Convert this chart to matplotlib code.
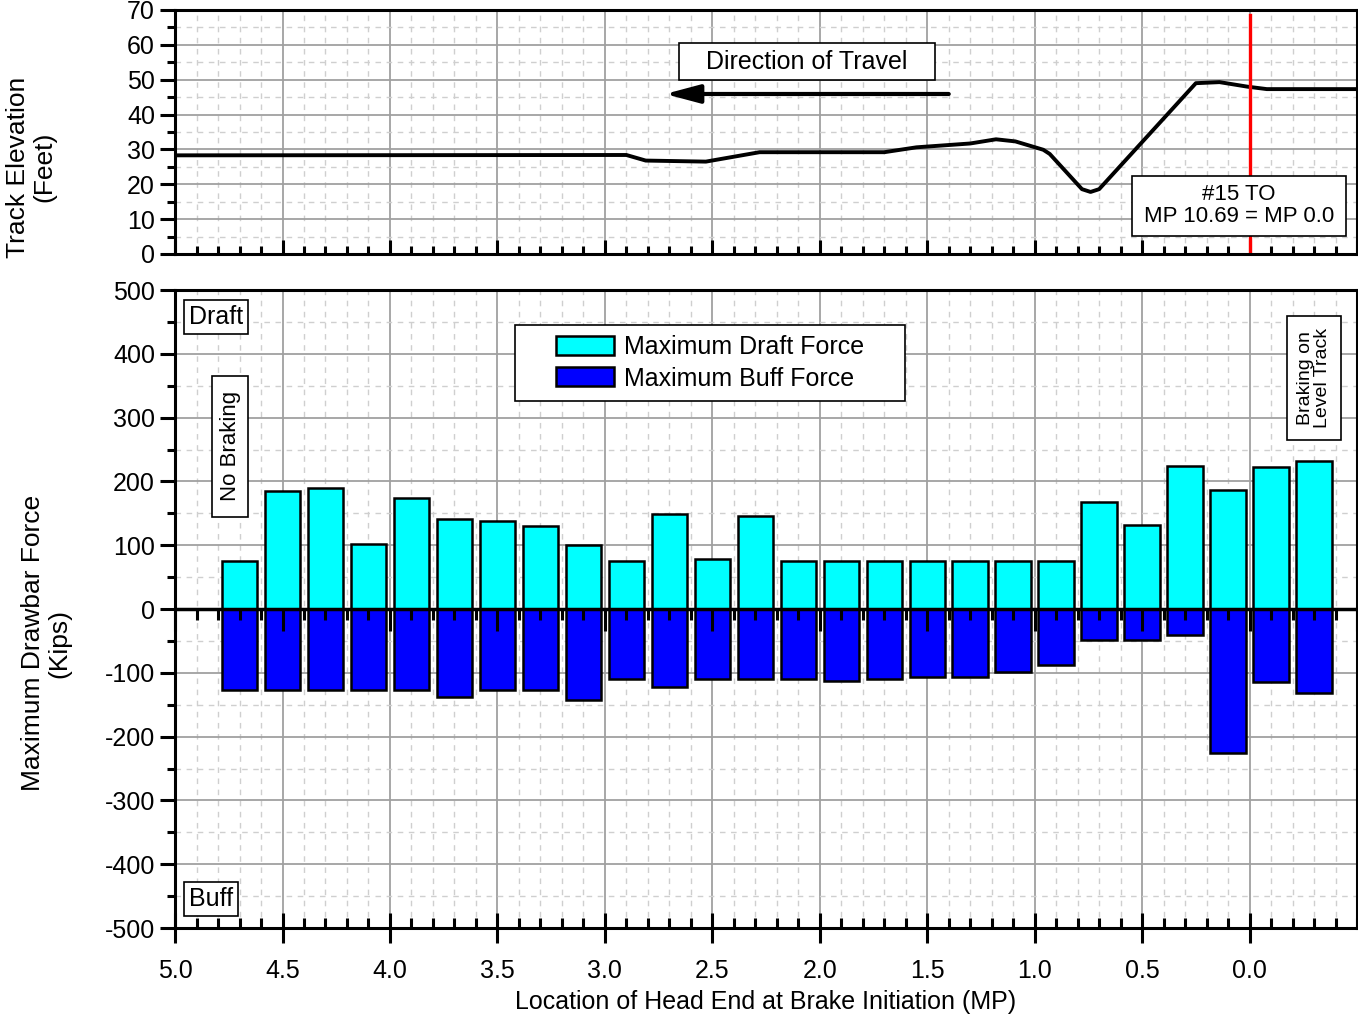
import matplotlib
matplotlib.use("Agg")
import matplotlib.pyplot as plt
from matplotlib.ticker import MultipleLocator
from matplotlib.path import Path

plt.rcParams['font.family'] = ['Liberation Sans', 'DejaVu Sans']
plt.rcParams['axes.unicode_minus'] = False

# track profile (MP, feet)
profile_mp = [5.0, 2.90, 2.81, 2.53, 2.28, 1.70, 1.55, 1.30, 1.18, 1.09, 0.96, 0.93,
              0.78, 0.74, 0.70, 0.25, 0.14, 0.01, -0.08, -0.5]
profile_elev = [28.3, 28.4, 26.8, 26.5, 29.2, 29.2, 30.6, 31.7, 32.9, 32.3, 29.9, 28.7,
                18.6, 17.8, 18.6, 49.0, 49.3, 48.0, 47.3, 47.3]

# brake initiation locations (MP) and max forces (kips)
brake_mp = [4.7, 4.5, 4.3, 4.1, 3.9, 3.7, 3.5, 3.3, 3.1, 2.9, 2.7, 2.5, 2.3,
            2.1, 1.9, 1.7, 1.5, 1.3, 1.1, 0.9, 0.7, 0.5, 0.3, 0.1, -0.1, -0.3]
draft_force = [76, 185, 189, 102, 174, 141, 138, 130, 100, 76, 149, 78, 146,
               76, 76, 76, 76, 76, 76, 76, 168, 131, 224, 187, 223, 232]
buff_force = [-127, -127, -127, -127, -127, -138, -127, -127, -142, -110, -123, -110, -110,
              -110, -113, -110, -106, -106, -98, -87, -49, -49, -40, -226, -114, -132]

x_ticks = [5.0, 4.5, 4.0, 3.5, 3.0, 2.5, 2.0, 1.5, 1.0, 0.5, 0.0]


def wide_box(padx, pady):
    # square frame with separate padding along / across the text
    def box(x0, y0, width, height, mutation_size):
        px = padx * mutation_size
        py = pady * mutation_size
        return Path([(x0 - px, y0 - py), (x0 + width + px, y0 - py),
                     (x0 + width + px, y0 + height + py), (x0 - px, y0 + height + py),
                     (x0 - px, y0 - py)], closed=True)
    return box


def style_axes(ax):
    for s in ax.spines.values():
        s.set_linewidth(2.2)
    ax.set_xlim(5.0, -0.5)
    ax.xaxis.set_major_locator(MultipleLocator(0.5))
    ax.xaxis.set_minor_locator(MultipleLocator(0.1))
    ax.grid(which='major', color='#a0a0a0', lw=1.3, ls='-')
    ax.grid(which='minor', color='#cfcfcf', lw=1.0, ls=(0, (4, 4)))
    ax.set_axisbelow(True)
    ax.tick_params(axis='y', which='major', direction='out', length=11, width=2.2, labelsize=18)
    ax.tick_params(axis='y', which='minor', direction='out', length=6, width=2.2)


fig = plt.figure(figsize=(13.58, 10.18), dpi=100)
ax1 = fig.add_axes([0.1289, 0.7505, 0.8704, 0.2397])
ax2 = fig.add_axes([0.1289, 0.0884, 0.8704, 0.6267])

# ---- top: track elevation
style_axes(ax1)
ax1.set_ylim(0, 70)
ax1.yaxis.set_major_locator(MultipleLocator(10))
ax1.yaxis.set_minor_locator(MultipleLocator(5))
ax1.tick_params(axis='x', which='major', direction='in', length=10, width=2.2, labelbottom=False)
ax1.tick_params(axis='x', which='minor', direction='in', length=6, width=2.2)
ax1.plot(profile_mp, profile_elev, color='black', lw=2.8, solid_joinstyle='round')
ax1.axvline(0.0, ymin=0, ymax=0.98, color='red', lw=2.4)
ax1.annotate('', xy=(2.72, 45.9), xytext=(1.40, 45.9),
             arrowprops=dict(arrowstyle='-|>,head_length=1.5,head_width=0.4',
                             color='black', lw=3, mutation_scale=14, shrinkA=0, shrinkB=0))
ax1.text(2.06, 55.2, 'Direction of Travel', fontsize=18, ha='center', va='center',
         bbox=dict(boxstyle=wide_box(1.1, 0.27), fc='white', ec='black', lw=1.2))
ax1.text(0.05, 13.9, '#15 TO\nMP 10.69 = MP 0.0', fontsize=16, ha='center', va='center',
         linespacing=1.1, bbox=dict(boxstyle=wide_box(0.55, 0.37), fc='white', ec='black', lw=1.2))

# ---- bottom: drawbar forces
style_axes(ax2)
ax2.set_ylim(-500, 500)
ax2.yaxis.set_major_locator(MultipleLocator(100))
ax2.yaxis.set_minor_locator(MultipleLocator(50))
ax2.tick_params(axis='x', which='major', direction='inout', length=22, width=2.2, labelsize=18, pad=11)
ax2.tick_params(axis='x', which='minor', direction='in', length=7, width=2.2)
ax2.set_xticks(x_ticks)
ax2.set_xticklabels([f'{v:.1f}' for v in x_ticks])

ax2.bar(brake_mp, draft_force, width=0.165, color='#00ffff', edgecolor='black', lw=1.8,
        label='Maximum Draft Force', zorder=3)
ax2.bar(brake_mp, buff_force, width=0.165, color='#0000ff', edgecolor='black', lw=1.8,
        label='Maximum Buff Force', zorder=3)
ax2.axhline(0, color='black', lw=2.5, zorder=4)

zero_ax = ax2.secondary_xaxis(0.5)
zero_ax.set_zorder(5)
zero_ax.xaxis.set_major_locator(MultipleLocator(0.5))
zero_ax.xaxis.set_minor_locator(MultipleLocator(0.1))
zero_ax.tick_params(which='major', direction='in', length=16, width=2.2, labeltop=False, labelbottom=False)
zero_ax.tick_params(which='minor', direction='in', length=8, width=2.2)
for s in zero_ax.spines.values():
    s.set_visible(False)

leg = ax2.legend(loc='upper left', bbox_to_anchor=(0.314, 0.945), fontsize=18, frameon=True,
                 fancybox=False, framealpha=1, edgecolor='black', handlelength=2.3,
                 handleheight=0.8, handletextpad=0.4, labelspacing=0.3, borderpad=0.4,
                 borderaxespad=0)
leg.get_frame().set_linewidth(1.2)
leg.get_frame().set_boxstyle(wide_box(1.25, 0.0))

box = dict(boxstyle='square,pad=0.2', fc='white', ec='black', lw=1.2)
ax2.text(0.0347, 0.958, 'Draft', transform=ax2.transAxes, fontsize=18, ha='center', va='center', bbox=box)
ax2.text(0.0305, 0.0455, 'Buff', transform=ax2.transAxes, fontsize=18, ha='center', va='center', bbox=box)
ax2.text(0.0465, 0.755, 'No Braking', transform=ax2.transAxes, fontsize=16, rotation=90,
         ha='center', va='center',
         bbox=dict(boxstyle=wide_box(0.7, 0.34), fc='white', ec='black', lw=1.2))
ax2.text(0.9636, 0.862, 'Braking on\nLevel Track', transform=ax2.transAxes, fontsize=14, rotation=90,
         ha='center', va='center', linespacing=1.0,
         bbox=dict(boxstyle=wide_box(0.63, 0.5), fc='white', ec='black', lw=1.2))

ax2.set_xlabel('Location of Head End at Brake Initiation (MP)', fontsize=18, labelpad=5)

fig.text(31 / 1358, 1 - 167 / 1018, 'Track Elevation\n(Feet)', rotation=90, fontsize=19,
         ha='center', va='center', multialignment='center', linespacing=1.1)
fig.text(46 / 1358, 1 - 643 / 1018, 'Maximum Drawbar Force\n(Kips)', rotation=90, fontsize=19,
         ha='center', va='center', multialignment='center', linespacing=1.1)

fig.savefig('out.png', dpi=100)
